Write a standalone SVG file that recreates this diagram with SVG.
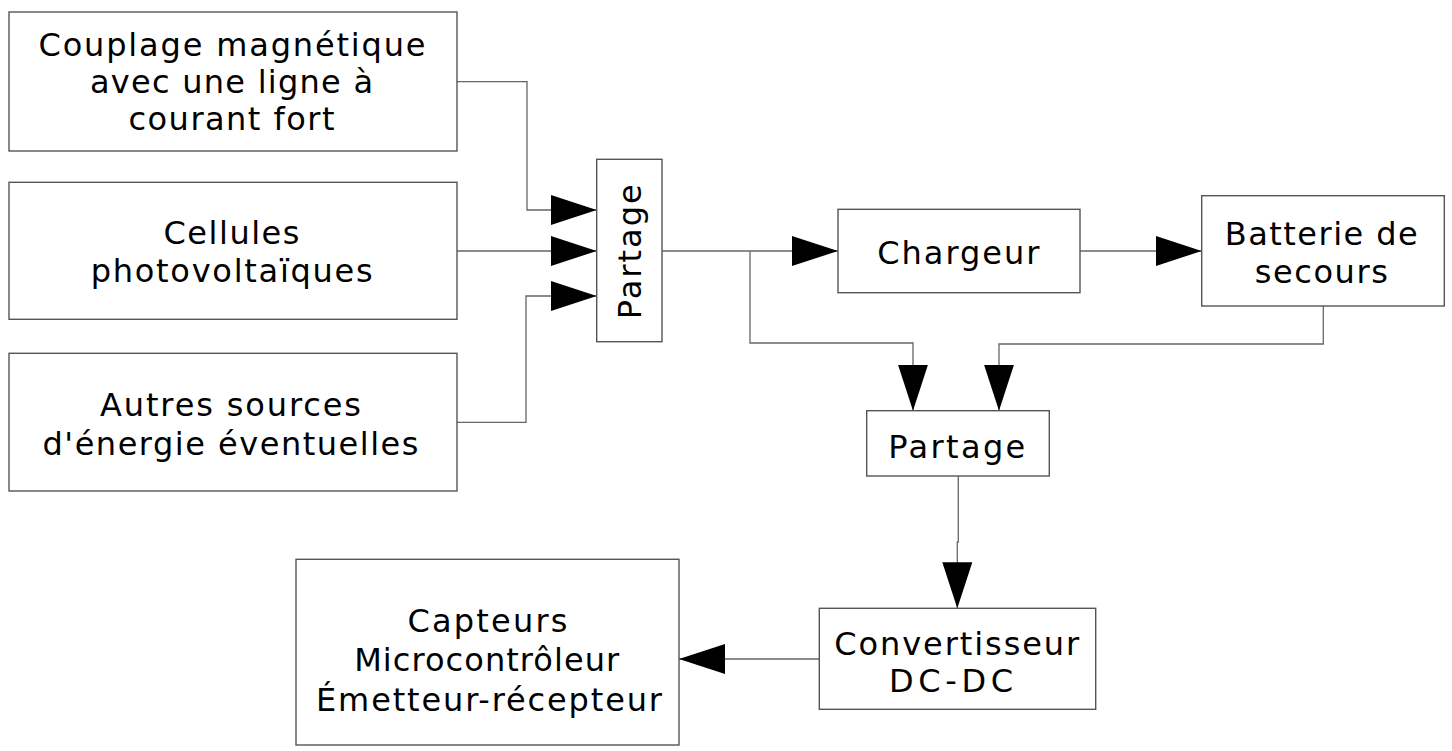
<svg xmlns="http://www.w3.org/2000/svg" width="1452" height="751" viewBox="0 0 1452 751">
<style>
.box{fill:#fff;stroke:#555;stroke-width:1.4}
.lbl{font-family:"DejaVu Sans",sans-serif;font-size:32px;fill:#000;text-anchor:middle}
.wire{fill:none;stroke:#666;stroke-width:1.3}
</style>
<defs>
<marker id="arr" markerUnits="userSpaceOnUse" markerWidth="46" markerHeight="30" viewBox="0 0 46 30" refX="46" refY="15" orient="auto">
<path d="M0,0 L46,15 L0,30 Z" fill="#000"/>
</marker>
</defs>
<rect width="1452" height="751" fill="#fff"/>
<g id="connectors">
<polyline class="wire" points="457,81.7 527,81.7 527,210 596.7,210" marker-end="url(#arr)"/>
<polyline class="wire" points="457,251 596.7,251" marker-end="url(#arr)"/>
<polyline class="wire" points="457,422.3 526,422.3 526,296 596.7,296" marker-end="url(#arr)"/>
<polyline class="wire" points="662,251 838,251" marker-end="url(#arr)"/>
<polyline class="wire" points="750,251 750,343 913,343 913,410.7" marker-end="url(#arr)"/>
<polyline class="wire" points="1080,251 1201.7,251" marker-end="url(#arr)"/>
<polyline class="wire" points="1323.3,306 1323.3,344 999,344 999,410.7" marker-end="url(#arr)"/>
<polyline class="wire" points="958.3,476 958.3,542 957.3,542 957.3,608.3" marker-end="url(#arr)"/>
<polyline class="wire" points="819.3,659 679,659" marker-end="url(#arr)"/>
</g>
<g id="n-couplage">
<rect class="box" x="9" y="12" width="448" height="139"/>
<text class="lbl" x="232" y="56" textLength="387" lengthAdjust="spacing">Couplage magnétique</text>
<text class="lbl" x="231.5" y="93.3" textLength="283" lengthAdjust="spacing">avec une ligne à</text>
<text class="lbl" x="231.5" y="130" textLength="206" lengthAdjust="spacing">courant fort</text>
</g>
<g id="n-cellules">
<rect class="box" x="9" y="182.3" width="448" height="137"/>
<text class="lbl" x="231.5" y="244" textLength="136" lengthAdjust="spacing">Cellules</text>
<text class="lbl" x="231.7" y="281.7" textLength="282" lengthAdjust="spacing">photovoltaïques</text>
</g>
<g id="n-autres">
<rect class="box" x="9" y="353.3" width="448" height="137.7"/>
<text class="lbl" x="230.5" y="415.7" textLength="261" lengthAdjust="spacing">Autres sources</text>
<text class="lbl" x="230.5" y="455" textLength="376" lengthAdjust="spacing">d'énergie éventuelles</text>
</g>
<g id="n-partage1">
<rect class="box" x="596.7" y="159.3" width="65.3" height="182.4"/>
<text class="lbl" transform="translate(641,251.7) rotate(-90)" x="0" y="0" textLength="135" lengthAdjust="spacing">Partage</text>
</g>
<g id="n-chargeur">
<rect class="box" x="838" y="209.3" width="242" height="83.4"/>
<text class="lbl" x="958.3" y="264.3" textLength="162" lengthAdjust="spacing">Chargeur</text>
</g>
<g id="n-batterie">
<rect class="box" x="1201.7" y="195.7" width="242.6" height="110.3"/>
<text class="lbl" x="1321.3" y="245" textLength="193" lengthAdjust="spacing">Batterie de</text>
<text class="lbl" x="1321.3" y="283.3" textLength="133" lengthAdjust="spacing">secours</text>
</g>
<g id="n-partage2">
<rect class="box" x="866.7" y="410.7" width="182.6" height="65.3"/>
<text class="lbl" x="956.8" y="458.3" textLength="137" lengthAdjust="spacing">Partage</text>
</g>
<g id="n-convertisseur">
<rect class="box" x="819.3" y="608.3" width="276.4" height="101"/>
<text class="lbl" x="956.7" y="655" textLength="245" lengthAdjust="spacing">Convertisseur</text>
<text class="lbl" x="951" y="691.7" textLength="124" lengthAdjust="spacing">DC-DC</text>
</g>
<g id="n-capteurs">
<rect class="box" x="296" y="559.3" width="383" height="185.7"/>
<text class="lbl" x="487.5" y="631.7" textLength="160" lengthAdjust="spacing">Capteurs</text>
<text class="lbl" x="486.7" y="671" textLength="265" lengthAdjust="spacing">Microcontrôleur</text>
<text class="lbl" x="489" y="711" textLength="346" lengthAdjust="spacing">Émetteur-récepteur</text>
</g>
</svg>
